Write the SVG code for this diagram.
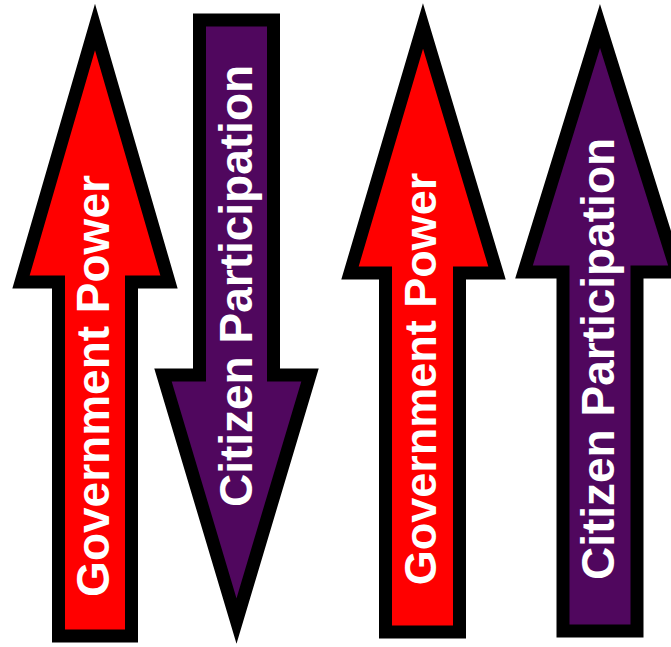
<svg xmlns="http://www.w3.org/2000/svg" width="671" height="647" viewBox="0 0 671 647">
  <style>
    .arrow { stroke: #000; stroke-width: 13; stroke-linejoin: miter; stroke-miterlimit: 10; }
    .red { fill: #FF0000; }
    .purple { fill: #50075E; }
    .label { font-family: "Liberation Sans", Arial, sans-serif; font-weight: bold; font-size: 46px; fill: #FFFFFF; text-anchor: middle; }
  </style>
  <rect width="671" height="647" fill="#FFFFFF"/>

  <!-- Government Power, pointing up -->
  <g id="gov-power-1">
    <path class="arrow red" d="M95,27 L169,282 L131.5,282 L131.5,636 L58.5,636 L58.5,282 L21,282 Z"/>
    <text class="label" transform="translate(76,386) rotate(-90)" y="33">Government Power</text>
  </g>

  <!-- Citizen Participation, pointing down -->
  <g id="citizen-participation-1">
    <path class="arrow purple" d="M199.5,20 L273.5,20 L273.5,375 L310,375 L236.5,621 L163,375 L199.5,375 Z"/>
    <text class="label" transform="translate(219,286) rotate(-90)" y="33">Citizen Participation</text>
  </g>

  <!-- Government Power, pointing up -->
  <g id="gov-power-2">
    <path class="arrow red" d="M423,26 L497,273 L459.5,273 L459.5,632 L385.5,632 L385.5,273 L350,273 Z"/>
    <text class="label" transform="translate(403,379) rotate(-90)" y="33" style="font-size:45px">Government Power</text>
  </g>

  <!-- Citizen Participation, pointing up -->
  <g id="citizen-participation-2">
    <path class="arrow purple" d="M600,26 L677,272 L637,272 L637,631 L563,631 L563,272 L524,272 Z"/>
    <text class="label" transform="translate(581,359) rotate(-90)" y="33">Citizen Participation</text>
  </g>
</svg>
